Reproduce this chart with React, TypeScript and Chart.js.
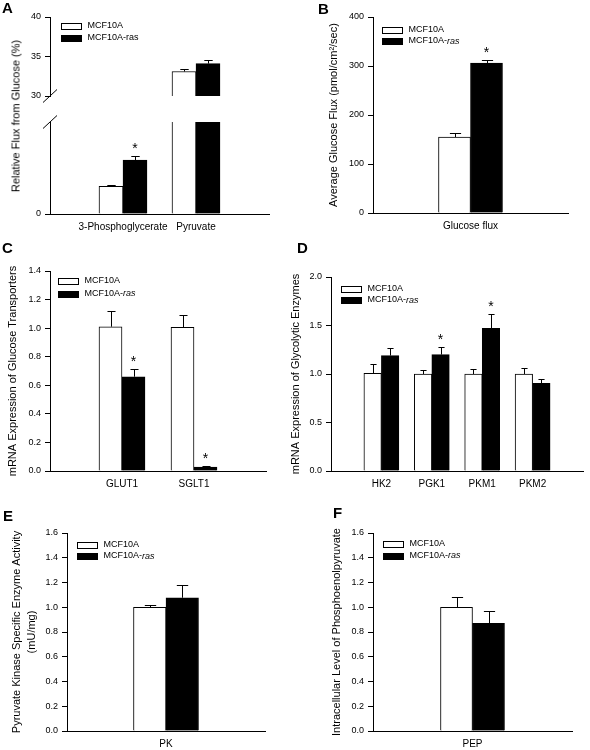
import React, { useEffect, useRef } from 'react';
import { Chart, registerables } from 'chart.js';

Chart.register(...registerables);

const FONT = "'Liberation Sans', Arial, Helvetica, sans-serif";

// ---------- DATA ----------
const SERIES_LABELS = ['MCF10A', 'MCF10A-ras'];

// Panel A (broken y axis: 0-10 and 30-40)
const A_CATEGORIES = ['3-Phosphoglycerate', 'Pyruvate'];
const A_MCF10A = [3.0, 33.1];
const A_MCF10A_ERR = [0.15, 0.35];
const A_RAS = [5.85, 34.1];
const A_RAS_ERR = [0.45, 0.45];
const A_RAS_STAR = [true, false];
const A_UPPER_Y_TICKS = [30, 35, 40];
const A_LOWER_Y_TICKS = [0];

// Panel B
const B_CATEGORIES = ['Glucose flux'];
const B_MCF10A = [155];
const B_MCF10A_ERR = [8];
const B_RAS = [306];
const B_RAS_ERR = [6];
const B_RAS_STAR = [true];
const B_Y_TICKS = [0, 100, 200, 300, 400];

// Panel C
const C_CATEGORIES = ['GLUT1', 'SGLT1'];
const C_MCF10A = [1.01, 1.005];
const C_MCF10A_ERR = [0.11, 0.085];
const C_RAS = [0.66, 0.028];
const C_RAS_ERR = [0.055, 0.006];
const C_RAS_STAR = [true, true];
const C_Y_TICKS = [0, 0.2, 0.4, 0.6, 0.8, 1.0, 1.2, 1.4];

// Panel D
const D_CATEGORIES = ['HK2', 'PGK1', 'PKM1', 'PKM2'];
const D_MCF10A = [1.007, 1.0, 1.0, 1.0];
const D_MCF10A_ERR = [0.095, 0.04, 0.05, 0.06];
const D_RAS = [1.19, 1.2, 1.47, 0.903];
const D_RAS_ERR = [0.076, 0.076, 0.145, 0.042];
const D_RAS_STAR = [false, true, true, false];
const D_Y_TICKS = [0, 0.5, 1.0, 1.5, 2.0];

// Panel E
const E_CATEGORIES = ['PK'];
const E_MCF10A = [1.0];
const E_MCF10A_ERR = [0.018];
const E_RAS = [1.077];
const E_RAS_ERR = [0.103];
const E_RAS_STAR = [false];
const E_Y_TICKS = [0, 0.2, 0.4, 0.6, 0.8, 1.0, 1.2, 1.4, 1.6];

// Panel F
const F_CATEGORIES = ['PEP'];
const F_MCF10A = [1.0];
const F_MCF10A_ERR = [0.085];
const F_RAS = [0.87];
const F_RAS_ERR = [0.102];
const F_RAS_STAR = [false];
const F_Y_TICKS = [0, 0.2, 0.4, 0.6, 0.8, 1.0, 1.2, 1.4, 1.6];

const NO_STARS = (n: number) => new Array(n).fill(false);

function series(v0: number[], e0: number[], v1: number[], e1: number[], s1: boolean[]) {
  return [
    { label: SERIES_LABELS[0], values: v0, errors: e0, stars: NO_STARS(v0.length), fill: '#ffffff' },
    { label: SERIES_LABELS[1], values: v1, errors: e1, stars: s1, fill: '#000000' },
  ];
}

// ---------- PANELS (layout) ----------
const PANELS: any[] = [
  {
    id: 'A-upper',
    box: { left: 0, top: 0, width: 290, height: 118 },
    area: { left: 50, top: 17, right: 269, bottom: 107 },
    categories: A_CATEGORIES,
    series: series(A_MCF10A, A_MCF10A_ERR, A_RAS, A_RAS_ERR, A_RAS_STAR),
    yMin: 30, yMax: 40, yTicks: A_UPPER_Y_TICKS, decimals: 0,
    barThickness: 24,
    legend: { dx: 11, dy: [9, 21], italicRas: false },
    showX: false,
    breakMark: 'bottom',
  },
  {
    id: 'A-lower',
    box: { left: 0, top: 110, width: 290, height: 135 },
    area: { left: 50, top: 122, right: 269, bottom: 214 },
    categories: A_CATEGORIES,
    series: series(A_MCF10A, A_MCF10A_ERR, A_RAS, A_RAS_ERR, A_RAS_STAR),
    yMin: 0, yMax: 10, yTicks: A_LOWER_Y_TICKS, decimals: 0,
    barThickness: 24,
    showX: true,
    breakMark: 'top',
  },
  {
    id: 'B',
    box: { left: 295, top: 0, width: 295, height: 245 },
    area: { left: 373, top: 17, right: 568, bottom: 213 },
    categories: B_CATEGORIES,
    series: series(B_MCF10A, B_MCF10A_ERR, B_RAS, B_RAS_ERR, B_RAS_STAR),
    yMin: 0, yMax: 400, yTicks: B_Y_TICKS, decimals: 0,
    title: 'Average Glucose Flux (pmol/cm\u00B2/sec)', titlePad: 32.3,
    barThickness: 32,
    legend: { dx: 9, dy: [13, 24], italicRas: true },
    showX: true,
  },
  {
    id: 'C',
    box: { left: 0, top: 240, width: 290, height: 260 },
    area: { left: 50, top: 271, right: 266, bottom: 471 },
    categories: C_CATEGORIES,
    series: series(C_MCF10A, C_MCF10A_ERR, C_RAS, C_RAS_ERR, C_RAS_STAR),
    yMin: 0, yMax: 1.4, yTicks: C_Y_TICKS, decimals: 1,
    title: 'mRNA Expression of Glucose Transporters', titlePad: 5.8,
    barThickness: 23,
    legend: { dx: 8, dy: [10, 22.5], italicRas: true },
    showX: true,
  },
  {
    id: 'D',
    box: { left: 285, top: 240, width: 305, height: 260 },
    area: { left: 331, top: 277, right: 588, bottom: 471 },
    categories: D_CATEGORIES,
    series: series(D_MCF10A, D_MCF10A_ERR, D_RAS, D_RAS_ERR, D_RAS_STAR),
    yMin: 0, yMax: 2.0, yTicks: D_Y_TICKS, decimals: 1,
    title: 'mRNA Expression of Glycolytic Enzymes', titlePad: 3.8,
    barThickness: 17.5,
    legend: { dx: 10, dy: [11.5, 23], italicRas: true },
    showX: true,
  },
  {
    id: 'E',
    box: { left: 0, top: 495, width: 290, height: 255 },
    area: { left: 67, top: 533, right: 265, bottom: 731 },
    categories: E_CATEGORIES,
    series: series(E_MCF10A, E_MCF10A_ERR, E_RAS, E_RAS_ERR, E_RAS_STAR),
    yMin: 0, yMax: 1.6, yTicks: E_Y_TICKS, decimals: 1,
    title: ['Pyruvate Kinase Specific Enzyme Activity', '(mU/mg)'], titlePad: 10.3,
    barThickness: 32.5,
    legend: { dx: 10, dy: [12, 23], italicRas: true },
    showX: true,
  },
  {
    id: 'F',
    box: { left: 295, top: 495, width: 295, height: 255 },
    area: { left: 373, top: 533, right: 572, bottom: 731 },
    categories: F_CATEGORIES,
    series: series(F_MCF10A, F_MCF10A_ERR, F_RAS, F_RAS_ERR, F_RAS_STAR),
    yMin: 0, yMax: 1.6, yTicks: F_Y_TICKS, decimals: 1,
    title: 'Intracellular Level of Phosphoenolpyruvate', titlePad: 35.3,
    barThickness: 32,
    legend: { dx: 10, dy: [10.5, 22.5], italicRas: true },
    showX: true,
  },
];

const LETTERS = [
  { t: 'A', x: 2, y: 2 },
  { t: 'B', x: 318, y: 3 },
  { t: 'C', x: 2, y: 242 },
  { t: 'D', x: 297, y: 242 },
  { t: 'E', x: 3, y: 510 },
  { t: 'F', x: 333, y: 507 },
];

// ---------- PLUGIN: error bars, stars, legend, axis break ----------
const extrasPlugin = {
  id: 'extras',
  afterDatasetsDraw(chart: any, _args: any, opts: any) {
    const ctx = chart.ctx;
    const area = chart.chartArea;
    const ys = chart.scales.y;
    ctx.save();
    ctx.beginPath();
    ctx.rect(area.left, area.top - 1, area.right - area.left, area.bottom - area.top + 1);
    ctx.clip();
    ctx.strokeStyle = '#000';
    ctx.lineWidth = 1;
    chart.data.datasets.forEach((ds: any, i: number) => {
      const meta = chart.getDatasetMeta(i);
      ds.data.forEach((pt: any, j: number) => {
        if (pt.y == null) return;
        const el = meta.data[j];
        const err = (ds.errors && ds.errors[j]) || 0;
        const x = Math.round(el.x) + 0.5;
        const y0 = ys.getPixelForValue(pt.y);
        const y1 = Math.round(ys.getPixelForValue(pt.y + err)) + 0.5;
        const cw = el.width * 0.35;
        ctx.beginPath();
        ctx.moveTo(x, y0);
        ctx.lineTo(x, y1);
        ctx.moveTo(x - cw / 2, y1);
        ctx.lineTo(x + cw / 2, y1);
        ctx.stroke();
      });
    });
    ctx.restore();

    // significance stars
    ctx.save();
    ctx.fillStyle = '#000';
    ctx.font = `14px ${FONT}`;
    ctx.textAlign = 'center';
    ctx.textBaseline = 'alphabetic';
    chart.data.datasets.forEach((ds: any, i: number) => {
      const meta = chart.getDatasetMeta(i);
      ds.data.forEach((pt: any, j: number) => {
        if (pt.y == null || !(ds.stars && ds.stars[j])) return;
        const err = (ds.errors && ds.errors[j]) || 0;
        const top = pt.y + err;
        if (top > ys.max || top < ys.min) return;
        const y1 = ys.getPixelForValue(top);
        ctx.fillText('*', meta.data[j].x, y1 - 3.2);
      });
    });
    ctx.restore();
  },
  afterDraw(chart: any, _args: any, opts: any) {
    const ctx = chart.ctx;
    const area = chart.chartArea;
    ctx.save();
    if (opts && opts.legend) {
      const { dx, dy, italicRas } = opts.legend;
      const bx = Math.round(area.left + dx) + 0.5;
      chart.data.datasets.forEach((ds: any, i: number) => {
        const cy = area.top + dy[i];
        const by = Math.round(cy - 3) + 0.5;
        ctx.fillStyle = ds.backgroundColor;
        ctx.fillRect(bx, by, 20, 6);
        ctx.strokeStyle = '#000';
        ctx.lineWidth = 1;
        ctx.strokeRect(bx, by, 20, 6);
        ctx.fillStyle = '#000';
        ctx.textBaseline = 'middle';
        ctx.textAlign = 'left';
        const tx = bx + 26;
        const label: string = ds.label;
        if (italicRas && label.endsWith('-ras')) {
          const head = label.slice(0, -3);
          ctx.font = `9px ${FONT}`;
          ctx.fillText(head, tx, cy);
          const w = ctx.measureText(head).width;
          ctx.font = `italic 9px ${FONT}`;
          ctx.fillText('ras', tx + w, cy);
        } else {
          ctx.font = `9px ${FONT}`;
          ctx.fillText(label, tx, cy);
        }
      });
    }
    if (opts && opts.breakMark) {
      const x = area.left;
      const y0 = opts.breakMark === 'bottom' ? area.bottom : area.top;
      ctx.strokeStyle = '#000';
      ctx.lineWidth = 1;
      ctx.beginPath();
      ctx.moveTo(x - 7, y0 + 6.5);
      ctx.lineTo(x + 7, y0 - 6.5);
      ctx.stroke();
    }
    ctx.restore();
  },
};

function buildConfig(p: any) {
  const yWidth = p.area.left - p.box.left;
  const padTop = p.area.top - p.box.top;
  const padRight = p.box.left + p.box.width - p.area.right;
  const xHeight = p.box.top + p.box.height - p.area.bottom;
  const n = p.categories.length;
  const datasets = p.series.map((s: any) => ({
    label: s.label,
    data: p.categories.map((_c: string, i: number) => ({
      x: i + 1,
      y: s.values[i] >= p.yMin ? s.values[i] : null,
    })),
    errors: s.errors,
    stars: s.stars,
    backgroundColor: s.fill,
    borderColor: '#000',
    borderWidth: 1,
    borderSkipped: 'start',
    barThickness: p.barThickness,
    clip: 0,
  }));
  return {
    type: 'bar',
    data: { datasets },
    options: {
      animation: false,
      responsive: false,
      maintainAspectRatio: false,
      events: [],
      layout: {
        autoPadding: false,
        padding: { left: 0, top: padTop, right: padRight, bottom: p.showX ? 0 : xHeight },
      },
      plugins: {
        legend: { display: false },
        tooltip: { enabled: false },
        title: { display: false },
        extras: { legend: p.legend, breakMark: p.breakMark },
      },
      scales: {
        x: {
          type: 'linear',
          min: 0,
          max: n + 1,
          offset: false,
          display: p.showX,
          afterFit: (s: any) => { s.height = xHeight; },
          afterBuildTicks: (s: any) => {
            s.ticks = Array.from({ length: n + 2 }, (_v, k) => ({ value: k }));
          },
          ticks: {
            autoSkip: false,
            maxRotation: 0,
            minRotation: 0,
            padding: 7,
            color: '#000',
            font: { family: FONT, size: 10 },
            callback: (v: number) => p.categories[v - 1] ?? '',
          },
          grid: { display: false, drawTicks: false },
          border: { display: true, color: '#000', width: 1 },
        },
        y: {
          type: 'linear',
          min: p.yMin,
          max: p.yMax,
          afterFit: (s: any) => { s.width = yWidth; },
          afterBuildTicks: (s: any) => {
            s.ticks = p.yTicks.map((v: number) => ({ value: v }));
          },
          ticks: {
            autoSkip: false,
            padding: 4,
            color: '#000',
            font: { family: FONT, size: 9 },
            callback: (v: number) => Number(v).toFixed(p.decimals),
          },
          grid: {
            display: true,
            drawOnChartArea: false,
            drawTicks: true,
            tickLength: 5,
            color: '#000',
            lineWidth: 1,
          },
          border: { display: true, color: '#000', width: 1 },
          title: p.title
            ? {
                display: true,
                text: p.title,
                color: '#000',
                font: { family: FONT, size: 11, lineHeight: 1.3 },
                padding: { top: p.titlePad, bottom: 0 },
              }
            : { display: false },
        },
      },
    },
    plugins: [extrasPlugin],
  };
}

function PanelChart({ p }: { p: any }) {
  const ref = useRef<HTMLCanvasElement>(null);
  useEffect(() => {
    if (!ref.current) return;
    const chart = new Chart(ref.current, buildConfig(p) as any);
    return () => chart.destroy();
  }, [p]);
  return (
    <canvas
      ref={ref}
      width={p.box.width}
      height={p.box.height}
      style={{
        position: 'absolute',
        left: p.box.left,
        top: p.box.top,
        width: p.box.width,
        height: p.box.height,
      }}
    />
  );
}

export default function App() {
  useEffect(() => {
    document.body.style.margin = '0';
    document.body.style.overflow = 'hidden';
    document.body.style.background = '#fff';
  }, []);
  return (
    <div
      style={{
        position: 'absolute',
        left: 0,
        top: 0,
        width: 590,
        height: 750,
        background: '#fff',
        overflow: 'hidden',
        fontFamily: FONT,
        color: '#000',
      }}
    >
      {PANELS.map((p) => (
        <PanelChart key={p.id} p={p} />
      ))}
      {LETTERS.map((l) => (
        <div
          key={l.t}
          style={{
            position: 'absolute',
            left: l.x,
            top: l.y - 2,
            fontSize: 15,
            lineHeight: '15px',
            fontWeight: 'bold',
            fontFamily: FONT,
          }}
        >
          {l.t}
        </div>
      ))}
      <div
        style={{
          position: 'absolute',
          left: 16,
          top: 115.5,
          transform: 'translate(-50%, -50%) rotate(-90deg)',
          whiteSpace: 'nowrap',
          fontSize: 11,
          lineHeight: '13px',
          fontFamily: FONT,
        }}
      >
        Relative Flux from Glucose (%)
      </div>
    </div>
  );
}
